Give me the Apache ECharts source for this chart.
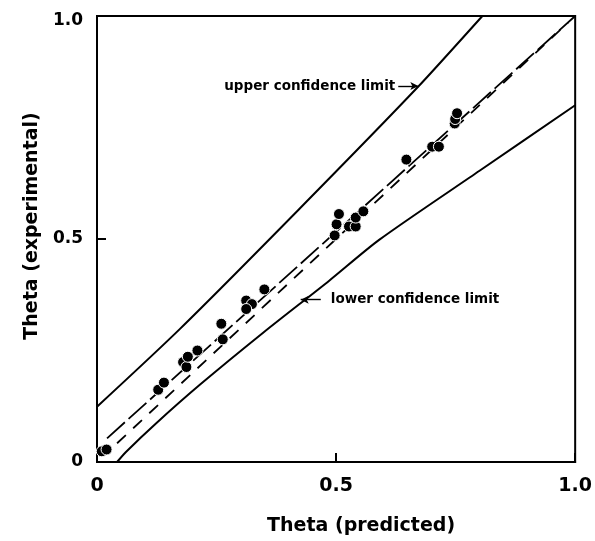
<!DOCTYPE html>
<html>
<head>
<meta charset="utf-8">
<script src="https://cdn.jsdelivr.net/npm/echarts@6/dist/echarts.min.js"></script>
<style>html,body{margin:0;padding:0;background:#fff}#c{width:595px;height:541px}</style>
</head>
<body>
<div id="c"></div>
<script>
// ---- data ----
var pointX = [0.010, 0.020, 0.128, 0.140, 0.180, 0.187, 0.190, 0.210, 0.260, 0.263, 0.312, 0.324, 0.312, 0.350,
              0.497, 0.501, 0.506, 0.527, 0.541, 0.541, 0.557, 0.647, 0.701, 0.715, 0.748, 0.749, 0.753];
var pointY = [0.024, 0.028, 0.162, 0.178, 0.224, 0.213, 0.236, 0.250, 0.310, 0.275, 0.362, 0.354, 0.343, 0.387,
              0.508, 0.533, 0.556, 0.528, 0.528, 0.548, 0.562, 0.678, 0.707, 0.707, 0.759, 0.769, 0.782];

var upperLimit = [[0, 0.124], [0.173, 0.298], [0.42, 0.564], [0.673, 0.843], [0.806, 1.0]];
var lowerLimit = [[0.042, 0], [0.06, 0.022], [0.125, 0.088], [0.215, 0.173], [0.35, 0.292],
                  [0.485, 0.406], [0.59, 0.498], [0.8, 0.653], [1.0, 0.80]];
var fitLine = [[0.021, 0.053], [1.0, 1.0]];
var identityLine = [[0.042, 0.042], [0.985, 0.985]];

var xTickLabels = {0: '0', 0.5: '0.5', 1: '1.0'};
var yTickLabels = {0: '0', 0.5: '0.5', 1: '1.0'};

var upperNote = {text: 'upper confidence limit', from: [0.63, 0.843], to: [0.672, 0.843]};
var lowerNote = {text: 'lower confidence limit', from: [0.468, 0.364], to: [0.426, 0.364]};

var pts = pointX.map(function (x, i) { return [x, pointY[i]]; });

var FONT = 'DejaVu Sans';
function noteLine(note, dist) {
  return {
    silent: true,
    symbol: ['none', 'arrow'],
    symbolSize: [6, 8],
    lineStyle: {color: '#000', width: 1.4, type: 'solid'},
    label: {
      show: true, position: 'start', distance: dist, formatter: note.text,
      color: '#000', fontFamily: FONT, fontWeight: 'bold', fontSize: 13.5
    },
    emphasis: {disabled: true},
    data: [[{coord: note.from}, {coord: note.to}]]
  };
}

var chart = echarts.init(document.getElementById('c'), null, {renderer: 'canvas'});
chart.setOption({
  animation: false,
  backgroundColor: '#fff',
  grid: {left: 97, right: 18, top: 16, bottom: 75, show: true, borderColor: '#000', borderWidth: 2, backgroundColor: 'transparent'},
  xAxis: {
    type: 'value', min: 0, max: 1, interval: 0.5,
    name: 'Theta (predicted)', nameLocation: 'middle', nameGap: 55,
    nameTextStyle: {fontFamily: FONT, fontWeight: 'bold', fontSize: 19, color: '#000', padding: [0, 0, 0, 50]},
    axisLine: {show: true, lineStyle: {color: '#000', width: 2}},
    axisTick: {show: true, inside: true, length: 9, lineStyle: {color: '#000', width: 2}},
    splitLine: {show: false},
    axisLabel: {
      margin: 15, color: '#000', fontFamily: FONT, fontWeight: 'bold', fontSize: 19,
      formatter: function (v) { return xTickLabels[v]; }
    }
  },
  yAxis: {
    type: 'value', min: 0, max: 1, interval: 0.5,
    name: 'Theta (experimental)', nameLocation: 'middle', nameGap: 52,
    nameTextStyle: {fontFamily: FONT, fontWeight: 'bold', fontSize: 19, color: '#000', padding: [0, 0, 0, 26]},
    axisLine: {show: true, lineStyle: {color: '#000', width: 2}},
    axisTick: {show: true, inside: true, length: 9, lineStyle: {color: '#000', width: 2}},
    splitLine: {show: false},
    axisLabel: {
      margin: 14, color: '#000', fontFamily: FONT, fontWeight: 'bold', fontSize: 17,
      formatter: function (v) { return v === 1 ? '{top|' + yTickLabels[v] + '}' : yTickLabels[v]; },
      rich: {top: {fontFamily: FONT, fontWeight: 'bold', fontSize: 17, color: '#000', padding: [10, 0, 0, 0]}}
    }
  },
  series: [
    {type: 'line', data: upperLimit, showSymbol: false, silent: true, smooth: 0.25,
     lineStyle: {color: '#000', width: 2}, markLine: noteLine(upperNote, 3)},
    {type: 'line', data: lowerLimit, showSymbol: false, silent: true, smooth: 0.25,
     lineStyle: {color: '#000', width: 2}, markLine: noteLine(lowerNote, 10)},
    {type: 'line', data: fitLine, showSymbol: false, silent: true,
     lineStyle: {color: '#000', width: 1.8, type: [24, 5]}},
    {type: 'line', data: identityLine, showSymbol: false, silent: true,
     lineStyle: {color: '#000', width: 1.8, type: [12, 10]}},
    {type: 'scatter', data: pts, symbol: 'circle', symbolSize: 11, silent: true, z: 5,
     itemStyle: {color: '#000', borderColor: '#fff', borderWidth: 1, opacity: 1}}
  ]
});
</script>
</body>
</html>
